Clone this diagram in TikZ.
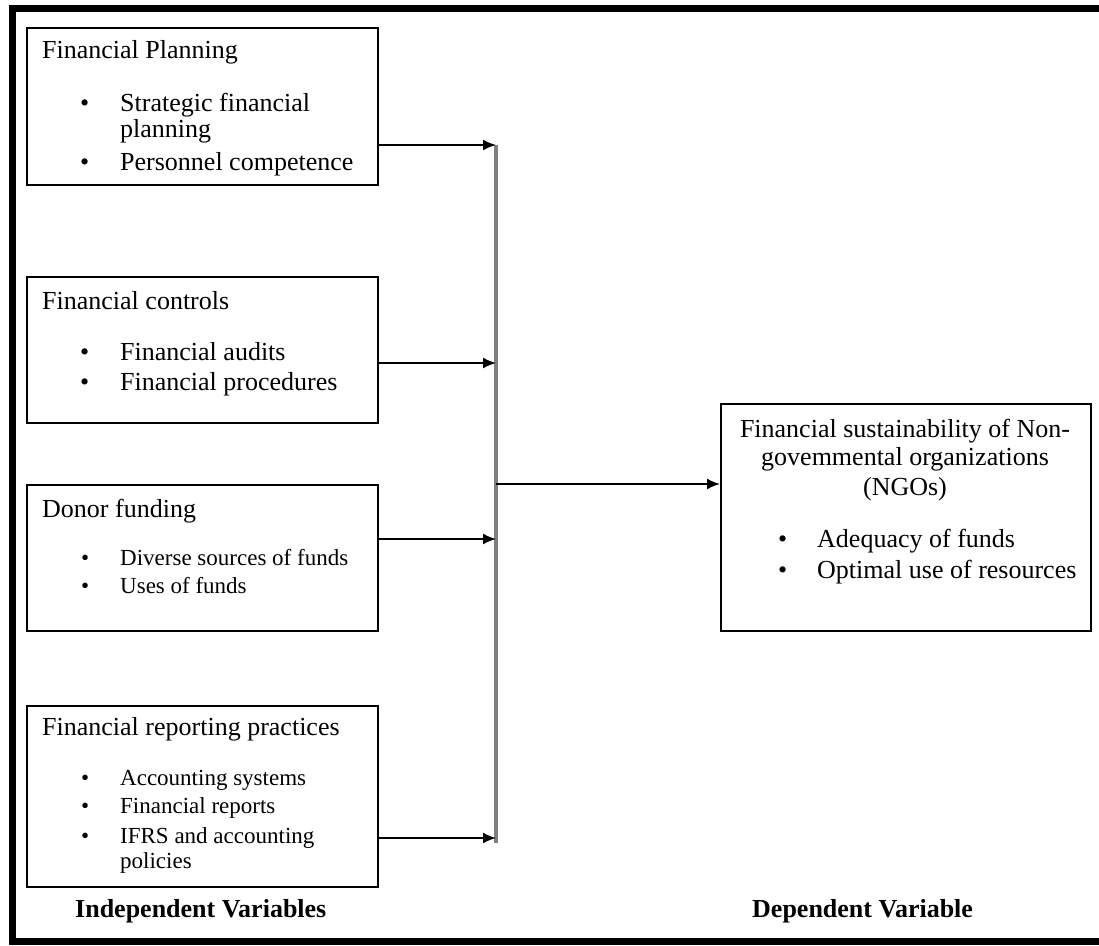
\documentclass[tikz,border=0pt]{standalone}
\usepackage{fontspec}
\setmainfont{Liberation Serif}
\usetikzlibrary{arrows.meta}
\tikzset{
  box/.style={draw, line width=1.8pt, inner sep=0pt, anchor=north west},
  txt/.style={anchor=base west, inner sep=0pt, font=\fontsize{26}{30}\selectfont},
  smalltxt/.style={anchor=base west, inner sep=0pt, font=\fontsize{23}{27}\selectfont},
  link/.style={line width=1.8pt, -{Latex[length=13pt,width=11pt]}}
}
\begin{document}
\begin{tikzpicture}[x=1pt, y=-1pt]
    \useasboundingbox (0,0) rectangle (1099,945);
    \draw[line width=7pt, line join=miter] (1099,8.5) -- (12,8.5) -- (12,941) -- (1099,941);

    % independent variables
    \node[box, minimum width=351pt, minimum height=157pt] (plan) at (26,27) {};
    \node[box, minimum width=351pt, minimum height=146pt] (ctrl) at (26,276) {};
    \node[box, minimum width=351pt, minimum height=146pt] (donor) at (26,484) {};
    \node[box, minimum width=351pt, minimum height=181pt] (rep) at (26,705) {};

    \node[txt] (planT) at (42,58) {Financial Planning};
    \node[txt] at (80,111) {\textbullet};
    \node[txt] at (120,111) {Strategic financial};
    \node[txt] at (120,137) {planning};
    \node[txt] at (80,170) {\textbullet};
    \node[txt] at (120,170) {Personnel competence};

    \node[txt] (ctrlT) at (42,309) {Financial controls};
    \foreach \y/\t in {360/Financial audits, 390/Financial procedures} {
        \node[txt] at (80,\y) {\textbullet};
        \node[txt] at (120,\y) {\t};
    }

    \node[txt] (donorT) at (42,517) {Donor funding};
    \foreach \y/\t in {565/Diverse sources of funds, 593/Uses of funds} {
        \node[smalltxt] at (81,\y) {\textbullet};
        \node[smalltxt] at (120,\y) {\t};
    }

    \node[txt] (repT) at (42,735) {Financial reporting practices};
    \foreach \y/\t in {785/Accounting systems, 813/Financial reports, 843/IFRS and accounting} {
        \node[smalltxt] at (81,\y) {\textbullet};
        \node[smalltxt] at (120,\y) {\t};
    }
    \node[smalltxt] at (120,868) {policies};

    % dependent variable
    \node[box, minimum width=370pt, minimum height=227pt] (ngo) at (720,403) {};
    \node[txt, anchor=base] at (905,437) {Financial sustainability of Non-};
    \node[txt, anchor=base] at (905,465) {govemmental organizations};
    \node[txt, anchor=base] at (905,495) {(NGOs)};
    \foreach \y/\t in {547/Adequacy of funds, 578/Optimal use of resources} {
        \node[txt] at (778,\y) {\textbullet};
        \node[txt] at (817,\y) {\t};
    }

    \node[txt, font=\fontsize{26}{30}\selectfont\bfseries] (indep) at (75,917) {Independent Variables};
    \node[txt, font=\fontsize{26}{30}\selectfont\bfseries] (dep) at (752,917) {Dependent Variable};

    % connectors
    \coordinate (bartop) at (496,145);
    \coordinate (barbot) at (496,843);
    \draw[gray, line width=3.5pt] (bartop) -- (barbot);
    \coordinate (a1) at (496,145);
    \coordinate (a2) at (496,363);
    \coordinate (a3) at (496,539);
    \coordinate (a4) at (496,838);
    \draw[link] (plan.east |- a1) -- (a1);
    \draw[link] (ctrl.east |- a2) -- (a2);
    \draw[link] (donor.east |- a3) -- (a3);
    \draw[link] (rep.east |- a4) -- (a4);
    \coordinate (out) at (496,484);
    \draw[link] (out) -- (ngo.west |- out);
\end{tikzpicture}
\end{document}
